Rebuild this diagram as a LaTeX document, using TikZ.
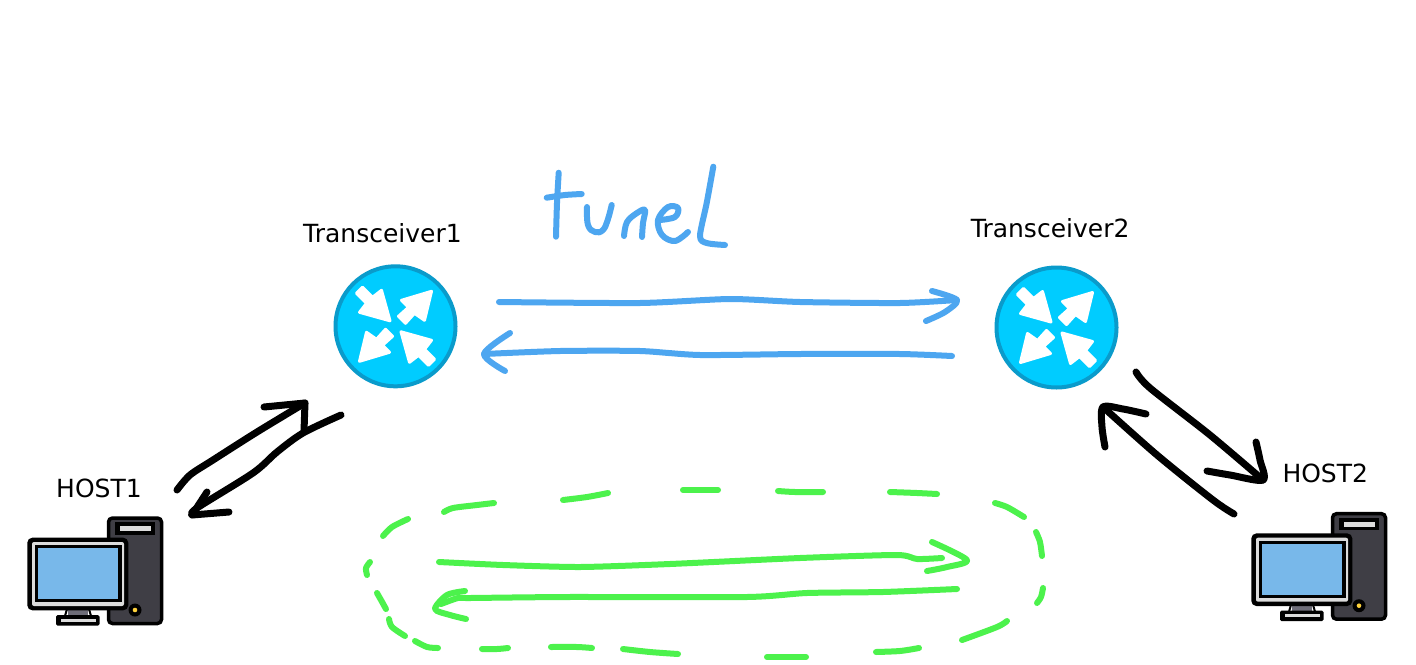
\documentclass[tikz,border=0pt]{standalone}
\usepackage{fontspec}
\setmainfont{DejaVu Sans}
\definecolor{tunelblue}{HTML}{4DA6F0}
\definecolor{vpngreen}{HTML}{4CF24C}
\definecolor{routerfill}{HTML}{00CCFF}
\definecolor{routeredge}{HTML}{0A9BCB}
\definecolor{towerfill}{HTML}{3F3E45}
\definecolor{screenblue}{HTML}{78B8EA}
\definecolor{ringgrey}{HTML}{DCDCDC}
\definecolor{standgrey}{HTML}{6E6D78}
\definecolor{ledyellow}{HTML}{FFD23C}
\newcommand{\gdashline}[1]{\draw[greenstroke] plot[smooth] coordinates {#1};}
\tikzset{
  x=1pt,y=-1pt,
  hand/.style={line cap=round,line join=round,fill=none},
  bluestroke/.style={hand,draw=tunelblue,line width=6pt},
  greenstroke/.style={hand,draw=vpngreen,line width=6pt},
  blackstroke/.style={hand,draw=black,line width=7pt},
  label/.style={anchor=base west,inner sep=0pt,font=\fontsize{25}{29}\selectfont,text=black},
  routernode/.style={circle,draw=routeredge,fill=routerfill,line width=4pt,minimum size=120pt,inner sep=0pt},
  whitearrow/.style={fill=white,draw=white,line width=3pt,line join=round},
  router arrows/.pic={
    \path[whitearrow] (-5.5,-5.5)--(-14,-36)--(-23,-29)--(-33,-39)--(-39,-33)--(-29,-23)--(-36,-14)--cycle;
    \path[whitearrow] (36,-35)--(6,-26)--(13,-19)--(3,-10)--(10,-3)--(19,-13)--(29,-6)--cycle;
    \path[whitearrow] (-36,35)--(-6,26)--(-13,19)--(-3,10)--(-10,3)--(-19,13)--(-29,6)--cycle;
    \path[whitearrow] (5.5,5.5)--(14,36)--(23,29)--(33,39)--(39,33)--(29,23)--(36,14)--cycle;
  },
  host pc/.pic={
    % tower
    \draw[black,line width=3.5pt,fill=towerfill,rounded corners=4pt] (108.5,518) rectangle (161.5,623.5);
    \fill[black] (115,522) rectangle (155,534.5);
    \fill[ringgrey] (120,526) rectangle (150.5,531);
    \fill[black] (135,610) circle (6.5);
    \fill[ledyellow] (135,610) circle (2.3);
    % stand
    \fill[standgrey] (68,609) rectangle (88,616);
    \draw[black,line width=2pt] (67,609)--(65,616) (89,609)--(91,616);
    \fill[black,rounded corners=1.5pt] (56,615) rectangle (99.5,625.5);
    \fill[ringgrey] (61,618.5) rectangle (96,621.5);
    % monitor
    \fill[black,rounded corners=5pt] (27.3,537.7) rectangle (128.3,610.3);
    \fill[ringgrey,rounded corners=2pt] (32,542) rectangle (124,606);
    \fill[black] (34.5,545) rectangle (121.5,602);
    \fill[screenblue] (37.7,548.3) rectangle (118.3,599);
  }
}
\begin{document}
\begin{tikzpicture}
\useasboundingbox (0,0) rectangle (1416,664);
\fill[white] (0,0) rectangle (1416,664);

% routers
\node[routernode] (tr1) at (395.5,326.3) {};
\pic at (tr1.center) {router arrows};
\node[routernode] (tr2) at (1056.5,327.5) {};
\pic at (tr2.center) {router arrows};

% hosts
\coordinate (host1) at (0,0);
\coordinate (host2) at (1224,-4.3);
\pic at (host1) {host pc};
\pic at (host2) {host pc};

% labels
\node[label] (l1) at (303,242.7) {Transceiver1};
\node[label] (l2) at (970.7,237.7) {Transceiver2};
\node[label] (l3) at (56,497.3) {HOST1};
\node[label] (l4) at (1282.3,482.7) {HOST2};

% handwritten word: tunel
\draw[bluestroke] plot[smooth] coordinates {(558.7,172.7)(557,203)(556,236.7)};
\draw[bluestroke] plot[smooth] coordinates {(546.7,197.7)(565,195)(581.7,194)};
\draw[bluestroke] plot[smooth,tension=0.7] coordinates {(587,207)(588,225)(595,232)(603,230)(608,219)(611.7,205)};
\draw[bluestroke] plot[smooth,tension=0.6] coordinates {(624,236)(627,222)(637,213)(645,210)(643,223)(642,237)};
\draw[bluestroke] plot[smooth,tension=0.6] coordinates {(660,220)(675,217)(678,208)(668,207)(658,220)(662,235)(675,241)(688,232)};
\draw[bluestroke] plot[smooth,tension=0.5] coordinates {(713.3,166.7)(706.7,203)(700,236)(706.7,243)(725,245)};

% tunnel arrows
\coordinate (ba) at (499,302);
\coordinate (bb) at (957,300);
\coordinate (bc) at (952,356);
\coordinate (bd) at (484,354);
\draw[bluestroke] plot[smooth,tension=0.4] coordinates {(ba)(640,303)(730,299)(800,302)(900,303)(bb)};
\draw[bluestroke] plot[smooth] coordinates {(932,291)(bb)(945,312)(926,321)};
\draw[bluestroke] plot[smooth,tension=0.4] coordinates {(bc)(900,354)(800,354)(700,355)(640,351)(560,351)(bd)};
\draw[bluestroke] plot[smooth] coordinates {(510,333)(bd)(505,371)};

% host1 arrows
\coordinate (ka) at (177,490);
\coordinate (kb) at (305,403);
\coordinate (kc) at (341,415);
\coordinate (kd) at (192,515);
\draw[blackstroke] plot[smooth] coordinates {(ka)(190,475)(213,460)(257,432)(kb)};
\draw[blackstroke] (264,407)--(kb)--(304,431);
\draw[blackstroke] plot[smooth] coordinates {(kc)(303,433)(277,452)(253,473)(197,508)(kd)};
\draw[blackstroke] (207,492)--(kd)--(229,512);

% host2 arrows
\coordinate (ke) at (1136,372);
\coordinate (kf) at (1263,480);
\coordinate (kg) at (1234,514);
\coordinate (kh) at (1103,407);
\draw[blackstroke] plot[smooth] coordinates {(ke)(1150,388)(1210,435)(kf)};
\draw[blackstroke] plot[smooth] coordinates {(1256,442)(1260,460)(kf)(1230,475)(1207,471)};
\draw[blackstroke] plot[smooth] coordinates {(kg)(1213,500)(1157,455)(kh)};
\draw[blackstroke] plot[smooth] coordinates {(1146,414)(1123,409)(kh)(1102,427)(1105,447)};

% green arrows
\coordinate (ga) at (439,562);
\coordinate (gb) at (967,560);
\coordinate (gc) at (957,589);
\coordinate (gd) at (435,609);
\draw[greenstroke] plot[smooth,tension=0.4] coordinates {(ga)(503,565)(580,567)(670,564)(800,558)(897,555)(917,559)(942,558)};
\draw[greenstroke] plot[smooth] coordinates {(932,542)(gb)(947,567)(927,571)};
\draw[greenstroke] plot[smooth,tension=0.4] coordinates {(gc)(883,592)(807,593)(747,597)(567,597)(470,598)(458,598)(441,604)};
\draw[greenstroke] plot[smooth] coordinates {(465,591)(447,595)(gd)(450,615)(466,619)};

% green dashed outline
\gdashline{(383,536)(392,527)(408,519)}
\gdashline{(444,512)(453,508)(477,505)(494,503)}
\gdashline{(563,500)(587,497)(608,493)}
\gdashline{(683,490)(718,490)}
\gdashline{(778,491)(795,492)(823,492)}
\gdashline{(890,492)(917,493)(937,494)}
\gdashline{(995,503)(1007,507)(1024,517)}
\gdashline{(1036,532)(1040,542)(1042,556)}
\gdashline{(1043,588)(1041,597)(1037,603)}
\gdashline{(1007,621)(997,627)(962,640)}
\gdashline{(919,648)(900,651)(876,652)}
\gdashline{(806,657)(767,657)}
\gdashline{(678,654)(650,652)(623,649)}
\gdashline{(592,648)(577,647)(551,647)}
\gdashline{(508,648)(497,649)(482,649)}
\gdashline{(438,648)(427,647)(415,641)}
\gdashline{(405,636)(392,627)(389,619)}
\gdashline{(386,609)(381,600)(377,593)}
\gdashline{(370,562)(366,568)(367,575)}
\end{tikzpicture}
\end{document}
